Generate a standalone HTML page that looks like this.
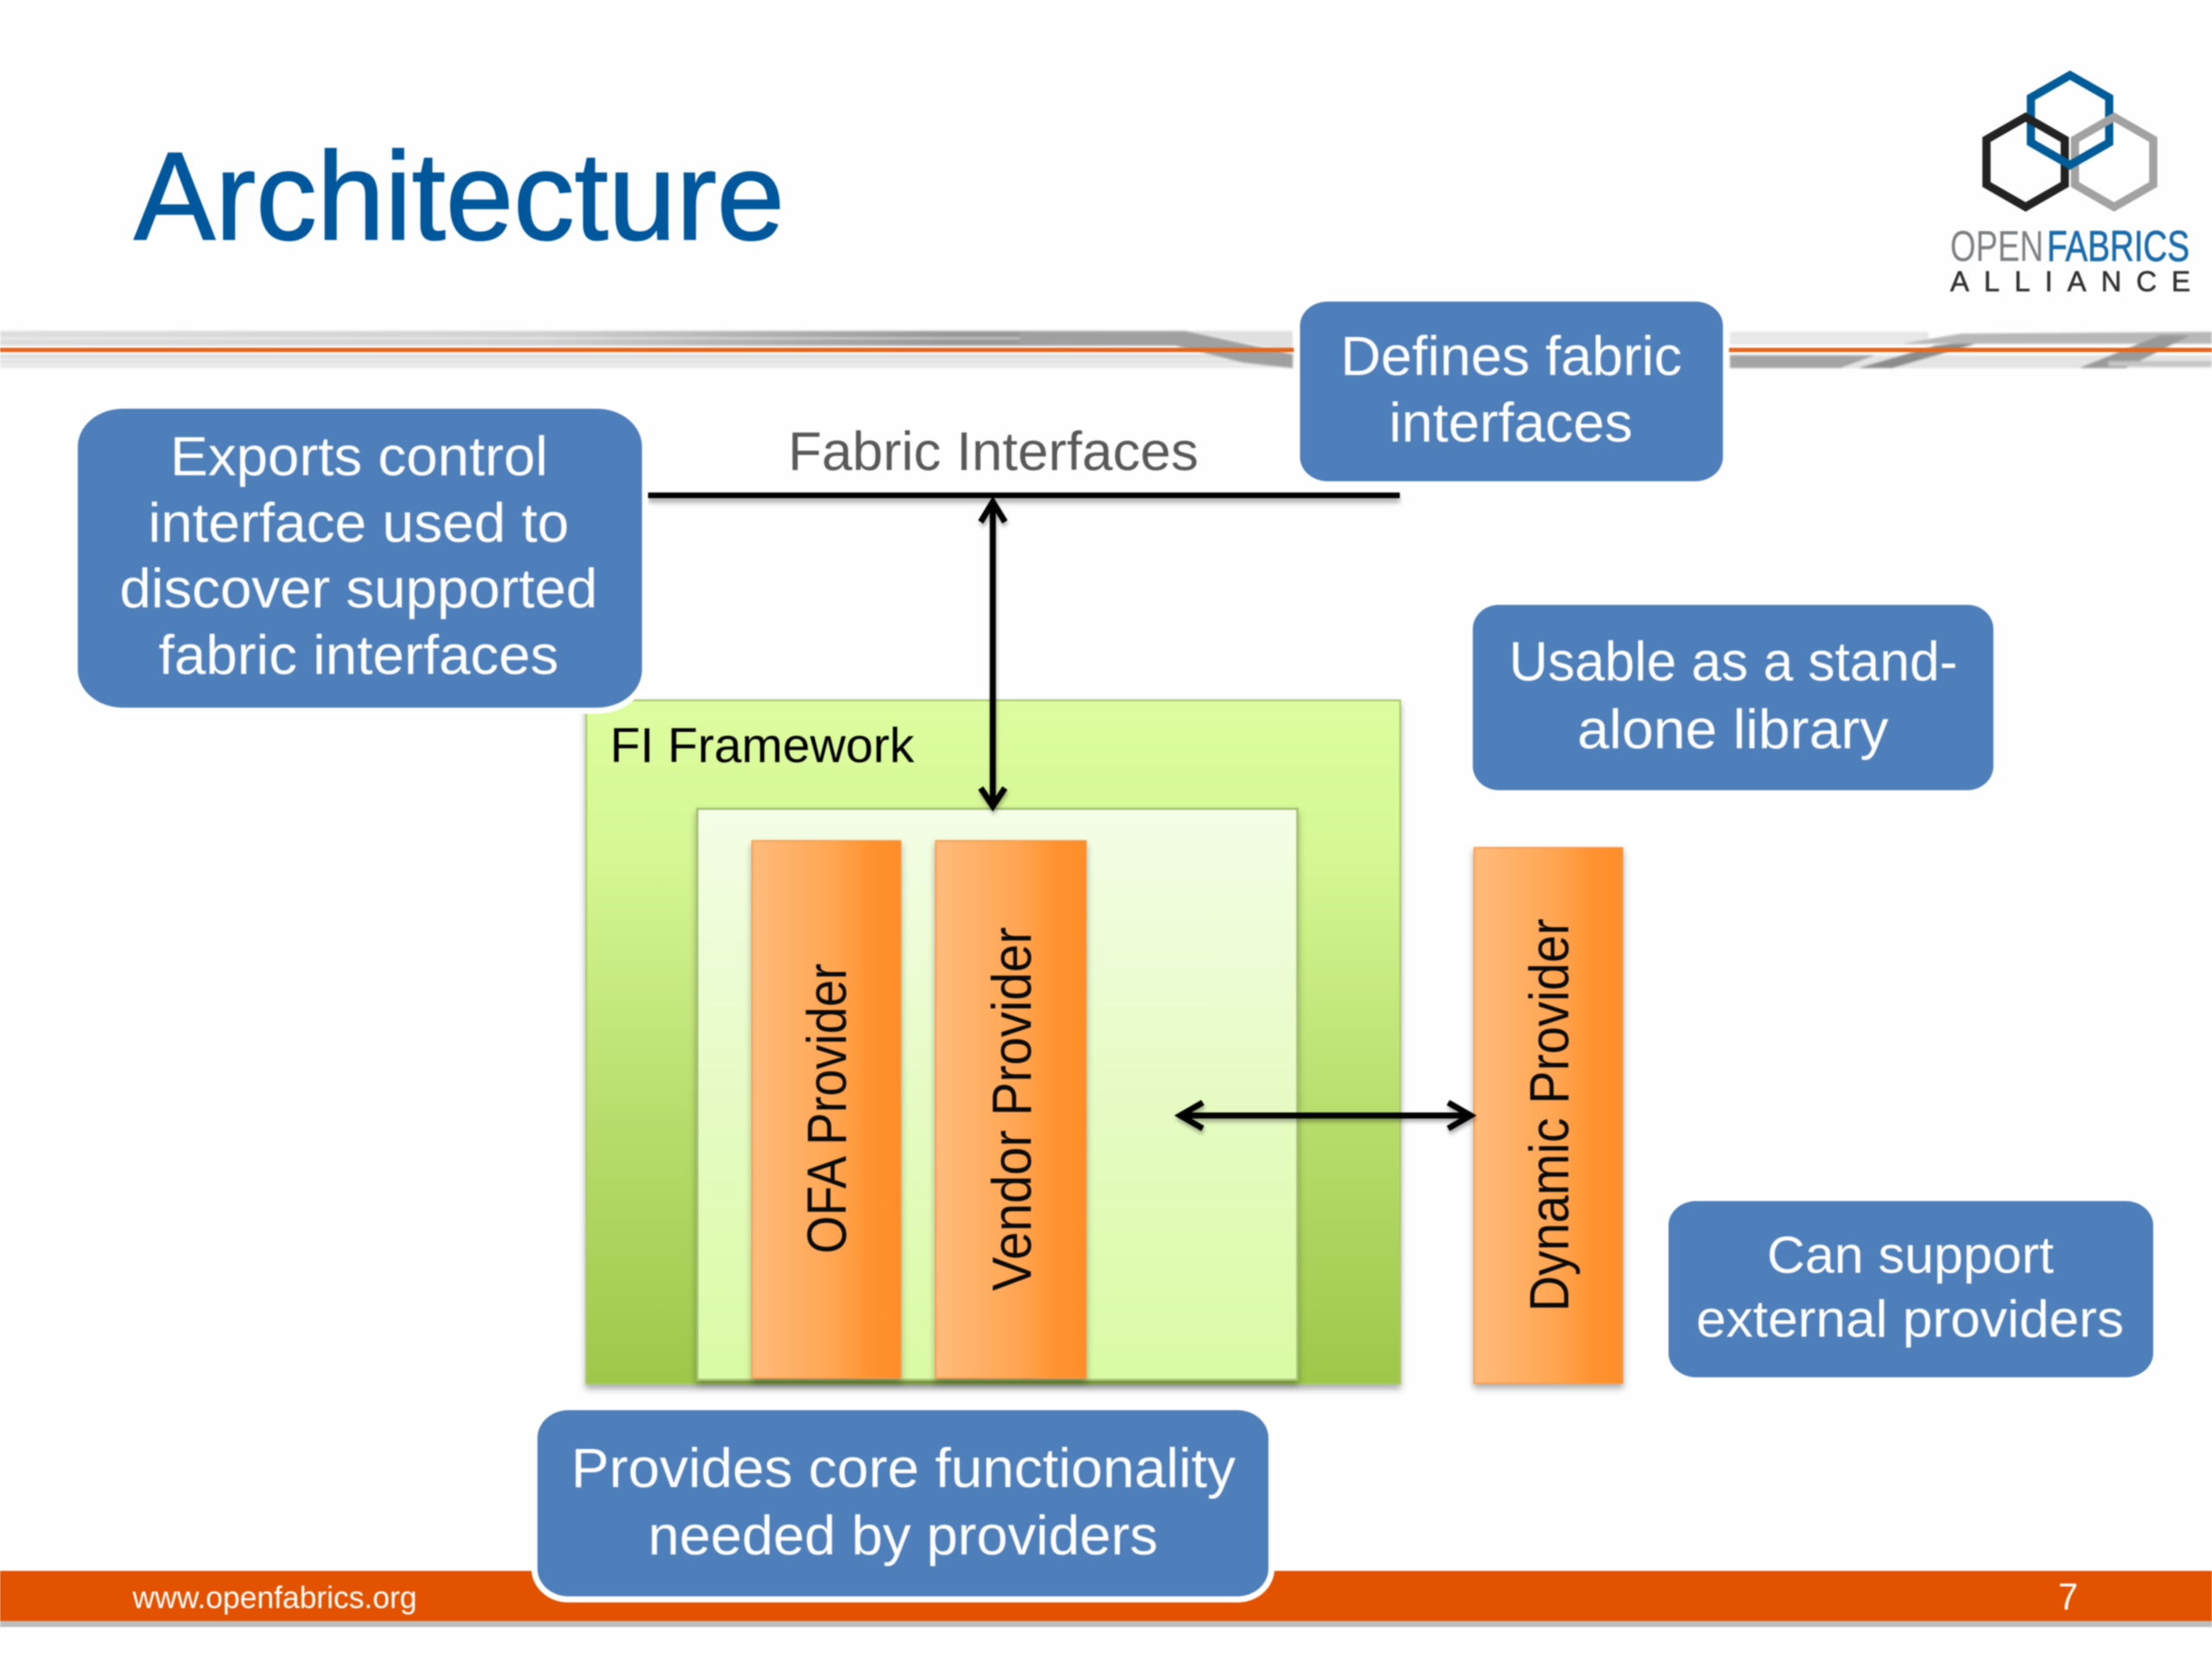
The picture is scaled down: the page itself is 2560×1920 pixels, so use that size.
<!DOCTYPE html>
<html>
<head>
<meta charset="utf-8">
<style>
html,body{margin:0;padding:0;background:#fff;width:2560px;height:1920px;overflow:hidden}
svg{display:block;filter:blur(.7px)}
text{font-family:"Liberation Sans",sans-serif}
.w{fill:#fff;font-size:64px;text-anchor:middle}
.r{fill:#0a0a0a;font-size:64px}
</style>
</head>
<body>
<svg width="2560" height="1920" viewBox="0 0 2560 1920" xmlns="http://www.w3.org/2000/svg">
<defs>
<linearGradient id="outer" x1="0" y1="0" x2="0" y2="1">
<stop offset="0" stop-color="#dcfc9f"/><stop offset=".22" stop-color="#d6f794"/><stop offset=".6" stop-color="#b9dd6d"/><stop offset="1" stop-color="#9ec74a"/>
</linearGradient>
<linearGradient id="inner" x1="0" y1="0" x2="0" y2="1">
<stop offset="0" stop-color="#f4fde6"/><stop offset=".5" stop-color="#e6fbc4"/><stop offset="1" stop-color="#dafaa4"/>
</linearGradient>
<linearGradient id="or" x1="0" y1="0" x2="1" y2="0">
<stop offset="0" stop-color="#ffbb7c"/><stop offset=".55" stop-color="#ffa552"/><stop offset=".8" stop-color="#fe922f"/><stop offset="1" stop-color="#fd8d2a"/>
</linearGradient>
<linearGradient id="band" x1="0" y1="0" x2="1" y2="0">
<stop offset="0" stop-color="#dedede"/><stop offset=".45" stop-color="#d2d2d2"/><stop offset=".62" stop-color="#b4b4b4"/><stop offset=".8" stop-color="#999"/>
</linearGradient>
<filter id="sh" x="-5%" y="-5%" width="110%" height="110%"><feDropShadow dx="0" dy="5" stdDeviation="4" flood-color="#000" flood-opacity=".32"/></filter>
<filter id="ls" x="-5%" y="-100%" width="110%" height="400%"><feDropShadow dx="0" dy="5" stdDeviation="3" flood-color="#000" flood-opacity=".35"/></filter>
<filter id="as" x="-20%" y="-20%" width="140%" height="140%"><feDropShadow dx="1" dy="4" stdDeviation="2" flood-color="#000" flood-opacity=".3"/></filter>
<filter id="bl" x="-5%" y="-50%" width="110%" height="200%"><feGaussianBlur stdDeviation="1"/></filter>
</defs>

<rect width="2560" height="1920" fill="#fefefe"/>

<!-- Title -->
<text x="155" y="277" font-size="145" fill="#00579c" stroke="#00579c" stroke-width="1.6" textLength="753" lengthAdjust="spacingAndGlyphs">Architecture</text>

<!-- Rule -->
<g filter="url(#bl)">
<rect x="0" y="383" width="1370" height="8" fill="url(#band)"/>
<rect x="0" y="392" width="1370" height="8" fill="url(#band)"/>
<rect x="0" y="410" width="1500" height="5" fill="#dedede"/>
<rect x="0" y="416" width="1500" height="5" fill="#e2e2e2"/>
<rect x="0" y="422" width="1500" height="4" fill="#e8e8e8"/>
<polygon points="1180,384 1372,383 1496,410 1496,426 1440,420 1360,400 1180,398" fill="#a0a0a0"/>
<polygon points="1372,383 1496,383 1496,408" fill="#e0e0e0"/>
<rect x="2002" y="384" width="230" height="15" fill="#e8e8e8"/>
<rect x="2002" y="411" width="558" height="15" fill="#e4e4e4"/>
<polygon points="2002,411 2170,411 2130,426 2002,426" fill="#a4a4a4"/>
<polygon points="2150,426 2240,400 2300,394 2190,426" fill="#8c8c8c"/>
<polygon points="2200,398 2270,386 2560,384 2560,398 2400,398" fill="#b8b8b8"/>
<polygon points="2406,426 2500,388 2535,388 2460,426" fill="#9a9a9a"/>
<rect x="2440" y="418" width="120" height="6" fill="#c4c4c4"/>
</g>
<rect x="0" y="402.5" width="2560" height="5" fill="#e4661e"/>

<!-- Logo -->
<g fill="none" stroke-width="9.5" stroke-linejoin="miter">
<polygon points="2395.7,87 2441,113 2441,165 2395.7,191 2350.4,165 2350.4,113" stroke="#005c99"/>
<polygon points="2344.3,135.5 2389.6,161.5 2389.6,213.5 2344.3,239.5 2299,213.5 2299,161.5" stroke="#222"/>
<polygon points="2446.7,135.5 2492,161.5 2492,213.5 2446.7,239.5 2401.4,213.5 2401.4,161.5" stroke="#a2a2a2"/>
<polyline points="2350.4,165 2395.7,191 2441,165" stroke="#005c99"/>
</g>
<text x="2257" y="302" font-size="50" fill="#7d7f82" textLength="108" lengthAdjust="spacingAndGlyphs">OPEN</text>
<text x="2369" y="302" font-size="50" fill="#1a6cab" stroke="#1a6cab" stroke-width=".8" textLength="165" lengthAdjust="spacingAndGlyphs">FABRICS</text>
<text x="2257" y="337" font-size="33" fill="#333" stroke="#333" stroke-width=".6" textLength="278" lengthAdjust="spacing">ALLIANCE</text>

<!-- Footer -->
<rect x="0" y="1876" width="2560" height="7" fill="#bdbdbd"/>
<rect x="0" y="1818" width="2560" height="58" fill="#e25200"/>
<text x="153.5" y="1861" font-size="36" fill="#fff" textLength="329" lengthAdjust="spacingAndGlyphs">www.openfabrics.org</text>
<text x="2382" y="1863" font-size="44" fill="#fff" textLength="23" lengthAdjust="spacingAndGlyphs">7</text>

<!-- Fabric Interfaces -->
<text x="912" y="544" font-size="63" fill="#595959" textLength="475" lengthAdjust="spacingAndGlyphs">Fabric Interfaces</text>
<rect x="750" y="570" width="870" height="6.5" fill="#000" filter="url(#ls)"/>

<!-- FI Framework -->
<rect x="678.5" y="810.5" width="942" height="791" fill="url(#outer)" stroke="#a9ca6b" stroke-width="2" filter="url(#sh)"/>
<text x="706" y="882" font-size="57" fill="#000" textLength="352" lengthAdjust="spacingAndGlyphs">FI Framework</text>
<rect x="807" y="936" width="694.5" height="661" fill="url(#inner)" stroke="#a3bf74" stroke-width="2.5" filter="url(#sh)"/>

<!-- Providers -->
<rect x="870.5" y="973" width="172" height="622" fill="url(#or)" stroke="#f79646" stroke-width="1.5" filter="url(#sh)"/>
<rect x="1083" y="973" width="174" height="622" fill="url(#or)" stroke="#f79646" stroke-width="1.5" filter="url(#sh)"/>
<rect x="1706" y="981" width="172" height="620" fill="url(#or)" stroke="#f79646" stroke-width="1.5" filter="url(#sh)"/>
<text class="r" transform="translate(979,1451) rotate(-90)" textLength="336" lengthAdjust="spacingAndGlyphs">OFA Provider</text>
<text class="r" transform="translate(1193,1494) rotate(-90)" textLength="421" lengthAdjust="spacingAndGlyphs">Vendor Provider</text>
<text class="r" transform="translate(1815,1518) rotate(-90)" textLength="455" lengthAdjust="spacingAndGlyphs">Dynamic Provider</text>

<!-- Arrows -->
<g fill="none" stroke="#000" stroke-width="7" filter="url(#as)">
<line x1="1149" y1="580" x2="1149" y2="932"/>
<polyline points="1135,604 1149,581 1163,604"/>
<polyline points="1135,912 1149,933 1163,912"/>
<line x1="1366" y1="1291" x2="1700" y2="1291"/>
<polyline points="1392,1276 1366,1291 1392,1306"/>
<polyline points="1676,1276 1702,1291 1676,1306"/>
</g>

<!-- Blue callouts -->
<g fill="#4f7fba" stroke="#fff" stroke-width="14" paint-order="stroke">
<rect x="90" y="473" width="653" height="346" rx="52" ry="44"/>
<rect x="1504.5" y="349" width="489.5" height="208" rx="32" ry="28"/>
<rect x="1704.5" y="700" width="602.5" height="214.5" rx="30" ry="28"/>
<rect x="1931" y="1390" width="561" height="204" rx="32" ry="28"/>
<rect x="622" y="1632" width="846" height="215.5" rx="36" ry="32"/>
</g>

<text class="w" x="415.5" y="550" textLength="437" lengthAdjust="spacingAndGlyphs">Exports control</text>
<text class="w" x="415" y="627" textLength="487" lengthAdjust="spacingAndGlyphs">interface used to</text>
<text class="w" x="415" y="703" textLength="553" lengthAdjust="spacingAndGlyphs">discover supported</text>
<text class="w" x="415" y="780" textLength="463" lengthAdjust="spacingAndGlyphs">fabric interfaces</text>

<text class="w" x="1749" y="434" textLength="395" lengthAdjust="spacingAndGlyphs">Defines fabric</text>
<text class="w" x="1748.5" y="511" textLength="282" lengthAdjust="spacingAndGlyphs">interfaces</text>

<text class="w" x="2006" y="787.5" textLength="519" lengthAdjust="spacingAndGlyphs">Usable as a stand-</text>
<text class="w" x="2005.5" y="866" textLength="360" lengthAdjust="spacingAndGlyphs">alone library</text>

<text class="w" x="2211" y="1473" style="font-size:60px" textLength="332" lengthAdjust="spacingAndGlyphs">Can support</text>
<text class="w" x="2210.5" y="1547" style="font-size:60px" textLength="495" lengthAdjust="spacingAndGlyphs">external providers</text>

<text class="w" x="1045.5" y="1721" textLength="769" lengthAdjust="spacingAndGlyphs">Provides core functionality</text>
<text class="w" x="1045" y="1799" textLength="590" lengthAdjust="spacingAndGlyphs">needed by providers</text>
</svg>
</body>
</html>
